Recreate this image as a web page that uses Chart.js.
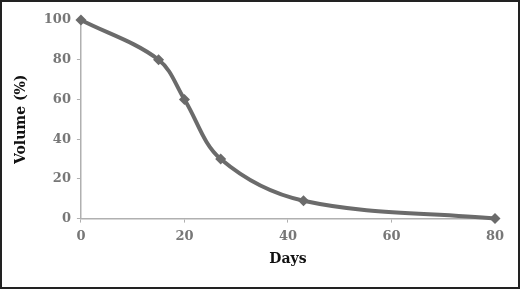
<!DOCTYPE html>
<html>
<head>
<meta charset="utf-8">
<script src="https://cdn.jsdelivr.net/npm/chart.js@4"></script>
<style>
  html, body { margin: 0; padding: 0; background: #fff; }
  #wrap { width: 520px; height: 289px; box-sizing: border-box; border: 2px solid #222; position: relative; }
</style>
</head>
<body>
<div id="wrap"><canvas id="myChart" width="516" height="285"></canvas></div>
<script>
var days = [0, 15, 20, 27, 43, 80];
var volume = [100, 80, 60, 30, 9, 0];
var xTicks = [0, 20, 40, 60, 80];
var yTicks = [0, 20, 40, 60, 80, 100];

var points = [];
days.forEach(function(d, i){
    points.push({x: d, y: volume[i]});
});

var font = "'DejaVu Serif', 'Liberation Serif', serif";
var axisColor = '#b0b0b0';

var ctx = document.getElementById('myChart');

var myChart = new Chart(ctx, {
    type: 'line',
    data: {
        datasets: [{
            data: points,
            borderColor: '#6b6b6b',
            backgroundColor: '#6b6b6b',
            borderWidth: 4,
            tension: 0.35,
            pointStyle: 'rectRot',
            pointRadius: 5.5,
            pointBorderWidth: 0,
            clip: false
        }]
    },
    options: {
        responsive: false,
        animation: false,
        layout: { padding: { top: 18, right: 23, left: 7, bottom: 15 } },
        plugins: { legend: { display: false }, tooltip: { enabled: false } },
        scales: {
            x: {
                type: 'linear',
                min: 0, max: 80,
                afterBuildTicks: function(s){ s.ticks = xTicks.map(function(v){ return {value: v}; }); },
                grid: { drawOnChartArea: false, drawTicks: true, tickLength: 4, color: axisColor },
                border: { color: axisColor, width: 1.5 },
                ticks: { color: '#777', font: { family: font, size: 13, weight: 'bold' }, padding: 6 },
                title: { display: true, text: 'Days', color: '#111', font: { family: font, size: 14, weight: 'bold' }, padding: { top: 1 } }
            },
            y: {
                min: 0, max: 100,
                afterBuildTicks: function(s){ s.ticks = yTicks.map(function(v){ return {value: v}; }); },
                grid: { drawOnChartArea: false, drawTicks: true, tickLength: 4, color: axisColor },
                border: { color: axisColor, width: 1.5 },
                ticks: { color: '#777', font: { family: font, size: 13, weight: 'bold' }, padding: 6 },
                title: { display: true, text: 'Volume (%)', color: '#111', font: { family: font, size: 14, weight: 'bold' }, padding: { bottom: 8 } }
            }
        }
    }
});
</script>
</body>
</html>
